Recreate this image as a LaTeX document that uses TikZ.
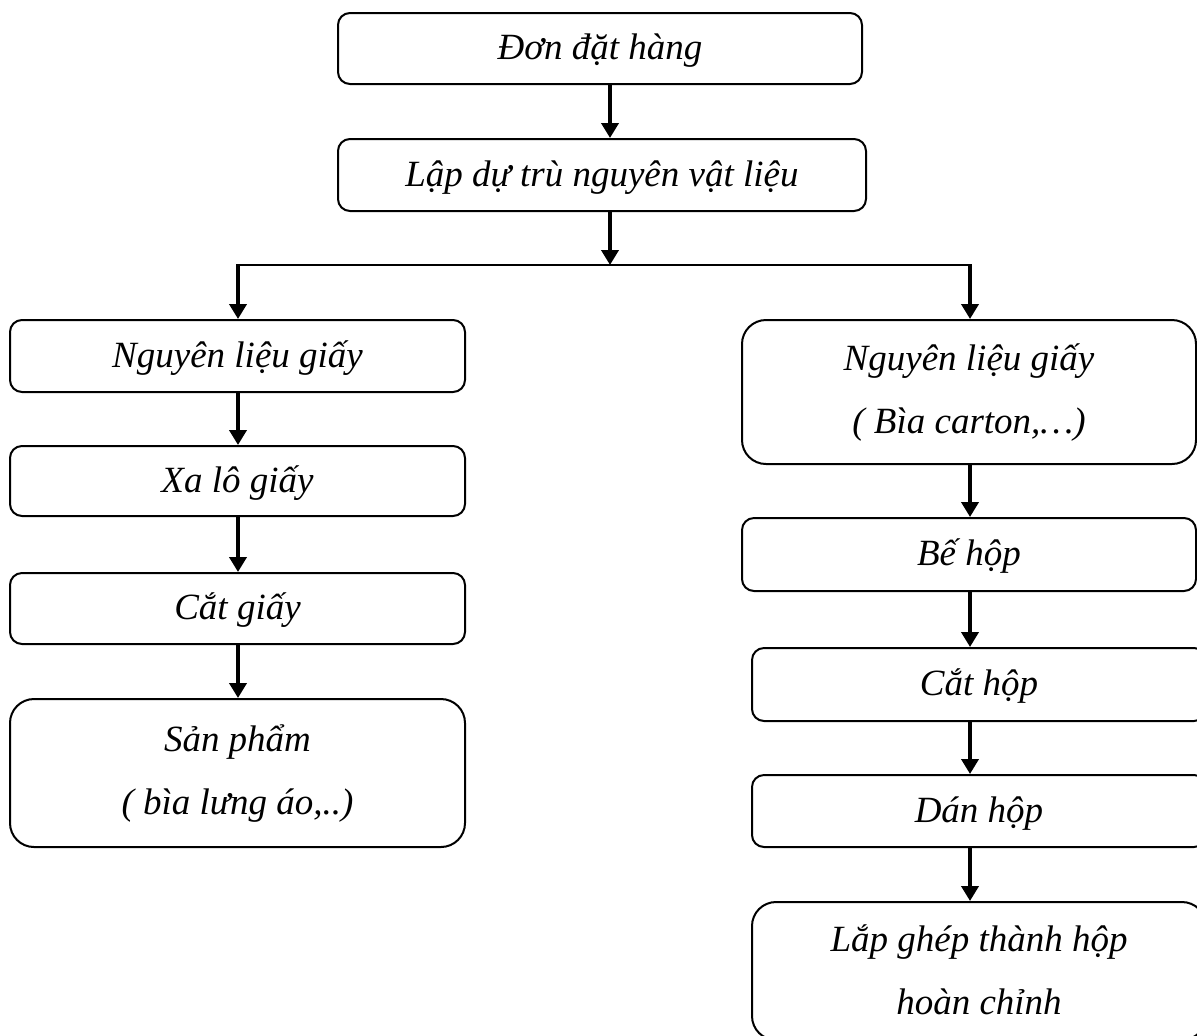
\documentclass[tikz,border=0pt]{standalone}
\usepackage{fontspec}
\setmainfont{Liberation Serif}
\usetikzlibrary{arrows.meta}
\begin{document}
\begin{tikzpicture}[x=0.5pt,y=-0.5pt,
  box/.style={draw, line width=1pt, rounded corners=6pt, align=center, inner sep=0pt,
    font=\fontsize{18.5}{31.5}\selectfont\itshape, text height=13pt, text depth=2pt},
  tallbox/.style={box, rounded corners=12pt, text height=44.5pt, text depth=3pt},
  arr/.style={line width=2pt, -{Triangle[width=8.5pt,length=7.5pt]}},
  branch/.style={line width=1.1pt},
]
\useasboundingbox (0,0) rectangle (1197,1035);
\clip (0,0) rectangle (1197,1035);

% centre column
\node[box, minimum width=262pt, minimum height=35.5pt] (b1) at (600,48.5) {Đơn đặt hàng};
\node[box, minimum width=264pt, minimum height=36pt] (b2) at (602,175) {Lập dự trù nguyên vật liệu};

% left column
\node[box, minimum width=227.5pt, minimum height=36pt] (L1) at (237.5,356) {Nguyên liệu giấy};
\node[box, minimum width=227.5pt, minimum height=35pt] (L2) at (237.5,481) {Xa lô giấy};
\node[box, minimum width=227.5pt, minimum height=35.5pt] (L3) at (237.5,608.5) {Cắt giấy};
\node[tallbox, minimum width=227.5pt, minimum height=74pt] (L4) at (237.5,773) {Sản phẩm\\( bìa lưng áo,..)};

% right column
\node[tallbox, minimum width=227pt, minimum height=72pt] (R1) at (969,392) {Nguyên liệu giấy\\( Bìa carton,…)};
\node[box, minimum width=227pt, minimum height=36.5pt] (R2) at (969,554.5) {Bế hộp};
\node[box, minimum width=227pt, minimum height=36.5pt] (R3) at (979,684.5) {Cắt hộp};
\node[box, minimum width=227pt, minimum height=36pt] (R4) at (979,811) {Dán hộp};
\node[tallbox, minimum width=227pt, minimum height=69pt, text depth=1.5pt] (R5) at (979,971) {Lắp ghép thành hộp\\hoàn chỉnh};

% connectors
\coordinate (cx) at (610,0);
\coordinate (jC) at (610,265);
\coordinate (jL) at (238,265);
\coordinate (jR) at (970,265);

\draw[arr] (b1.south -| cx) -- (b2.north -| cx);
\draw[arr] (b2.south -| cx) -- (jC);
\draw[branch] ([xshift=-1pt]jL) -- ([xshift=1pt]jR);
\draw[arr] ([yshift=0.5pt]jL) -- (L1.north -| jL);
\draw[arr] ([yshift=0.5pt]jR) -- (R1.north -| jR);

\draw[arr] (L1.south -| jL) -- (L2.north -| jL);
\draw[arr] (L2.south -| jL) -- (L3.north -| jL);
\draw[arr] (L3.south -| jL) -- (L4.north -| jL);

\draw[arr] (R1.south -| jR) -- (R2.north -| jR);
\draw[arr] (R2.south -| jR) -- (R3.north -| jR);
\draw[arr] (R3.south -| jR) -- (R4.north -| jR);
\draw[arr] (R4.south -| jR) -- (R5.north -| jR);
\end{tikzpicture}
\end{document}
